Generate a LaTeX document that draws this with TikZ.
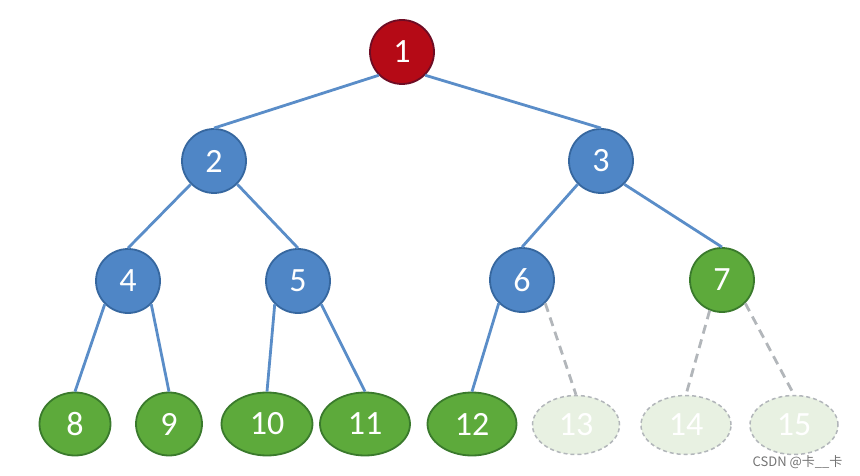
\documentclass[tikz,border=0pt]{standalone}
\usepackage{fontspec}
\setmainfont{Carlito}
\newfontfamily\cjkfont{Noto Sans CJK SC}
\usetikzlibrary{shapes.geometric}

\definecolor{rootfill}{HTML}{B50A16}
\definecolor{rootline}{HTML}{6E0C24}
\definecolor{bluefill}{HTML}{4F86C6}
\definecolor{blueline}{HTML}{36679F}
\definecolor{greenfill}{HTML}{5DAA3B}
\definecolor{greenline}{HTML}{3A7A2C}
\definecolor{edgeblue}{HTML}{5A8DC8}
\definecolor{ghostfill}{HTML}{E8F1E2}
\definecolor{ghostline}{HTML}{B2B6BA}

\tikzset{
    numnode/.style={line width=1.8pt,inner sep=0pt,text=white,
        font=\fontsize{34}{38}\selectfont},
    rootnode/.style={numnode,circle,minimum size=64pt,draw=rootline,fill=rootfill},
    innode/.style={numnode,circle,minimum size=64pt,draw=blueline,fill=bluefill},
    greennode/.style={numnode,circle,minimum size=64pt,draw=greenline,fill=greenfill},
    leafnode/.style={numnode,ellipse,minimum height=63pt,draw=greenline,fill=greenfill},
    ghostnode/.style={numnode,ellipse,minimum height=59pt,draw=ghostline,
        fill=ghostfill,line width=1.5pt,dash pattern=on 4pt off 3pt},
    treeedge/.style={draw=edgeblue,line width=2.8pt},
    ghostedge/.style={draw=ghostline,line width=2.8pt,dash pattern=on 9pt off 6pt}
}

\begin{document}
\begin{tikzpicture}[x=1pt,y=-1pt]
    \useasboundingbox (0,0) rectangle (860,476);

    % top of the tree
    \node[rootnode] (n1) at (402,52) {1};
    \node[innode] (n2) at (214,161) {2};
    \node[innode] (n3) at (601,161) {3};

    % third row
    \node[innode] (n4) at (128,281) {4};
    \node[innode] (n5) at (298,281) {5};
    \node[innode] (n6) at (522,280) {6};
    \node[greennode] (n7) at (722,280) {7};

    % leaves
    \node[leafnode,minimum width=71pt] (n8) at (75,424) {8};
    \node[leafnode,minimum width=66pt] (n9) at (169,424) {9};
    \node[leafnode,minimum width=91pt] (n10) at (267,424) {10};
    \node[leafnode,minimum width=90pt] (n11) at (365,424) {11};
    \node[leafnode,minimum width=89pt] (n12) at (472,424) {12};
    \node[ghostnode,minimum width=87pt] (n13) at (576,425) {13};
    \node[ghostnode,minimum width=90pt] (n14) at (686,425) {14};
    \node[ghostnode,minimum width=88pt] (n15) at (794,425) {15};

    \draw[treeedge] (n1.south west) -- (n2.north);
    \draw[treeedge] (n1.south east) -- (n3.north);
    \draw[treeedge] (n2.south west) -- (n4.north);
    \draw[treeedge] (n2.south east) -- (n5.north);
    \draw[treeedge] (n3.south west) -- (n6.north);
    \draw[treeedge] (n3.south east) -- (n7.north);
    \draw[treeedge] (n4.south west) -- (n8.north);
    \draw[treeedge] (n4.south east) -- (n9.north);
    \draw[treeedge] (n5.south west) -- (n10.north);
    \draw[treeedge] (n5.south east) -- (n11.north);
    \draw[treeedge] (n6.south west) -- (n12.north);

    % missing children
    \draw[ghostedge] (n6.south east) -- (n13.north);
    \draw[ghostedge] (n7.248) -- (n14.north);
    \draw[ghostedge] (n7.south east) -- (n15.north);

    \node[anchor=base east,text=black!55,font=\cjkfont\fontsize{13}{15}\selectfont]
        (mark) at (846,466) {CSDN @卡\_\_卡};
\end{tikzpicture}
\end{document}
